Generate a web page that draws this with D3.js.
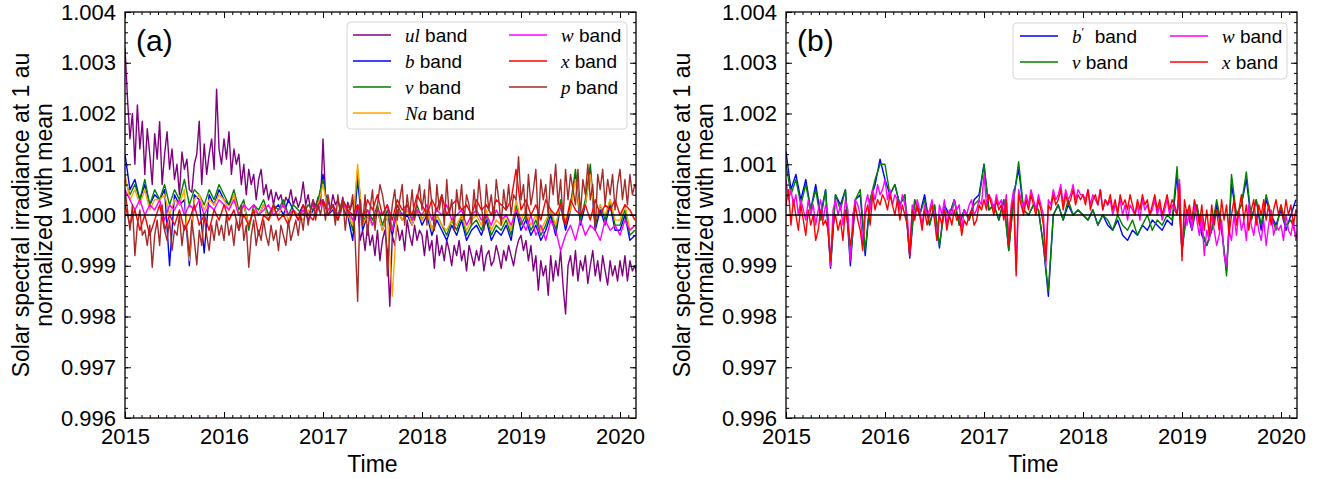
<!DOCTYPE html>
<html>
<head>
<meta charset="utf-8">
<script src="https://cdn.jsdelivr.net/npm/d3@7"></script>
<style>
  body { margin: 0; background: #fff; }
  svg { display: block; }
  text { font-family: "Liberation Sans", Arial, sans-serif; fill: #000; }
</style>
</head>
<body>
<svg id="chart" width="1331" height="479"></svg>
<script>
// sampling grids of the series (decimal years)
const startYear = 2015;
const coarseStep = 0.05;
const fineStep = 0.025;

const yearTicks = [2015, 2016, 2017, 2018, 2019, 2020];
const valueTicks = [0.996, 0.997, 0.998, 0.999, 1.000, 1.001, 1.002, 1.003, 1.004];

// deviations from the mean, in parts per million (value = 1 + d * 1e-6)
// panel (a) -- fine grid
const ulA = [3300, 2300, 1500, 2000, 1000, 2170, 1300, 1850, 800, 1700, 1200, 600, 1600, 1100, 1840, 600, 1200, 1640, 900, 1300,
  700, 1000, 400, 1240, 900, 1100, 500, 450, 1000, 1200, 1850, 600, 1400, 800, 1200, 1500, 900, 2480, 1300, 1000,
  1500, 1100, 1640, 800, 1300, 1000, 1200, 600, 1000, 400, 900, 600, 800, 300, 700, 900, 400, 600, 300, 500,
  200, 450, 300, 400, 150, 350, 250, 500, 200, 350, 150, 300, 650, 200, 400, 100, 300, 150, 350, 200,
  1500, 400, 300, 100, 400, 200, 300, 100, 350, 0, 250, 100, 300, -100, 200, -500, -300, -700, -200, -600,
  -400, -800, -300, -900, -500, -300, -700, -1800, -400, -600, -200, -500, -300, -700, -100, -400, -600, -200, -500, -300,
  -400, -800, -300, -700, -500, -1050, -400, -800, -600, -900, -500, -700, -1000, -600, -800, -500, -900, -700, -1100, -600,
  -800, -1000, -700, -900, -600, -1100, -800, -700, -1000, -900, -600, -800, -1050, -700, -900, -600, -800, -1000, -700, -500,
  -400, -700, -500, -900, -600, -1100, -800, -1480, -900, -1200, -1000, -1580, -800, -1300, -900, -1200, -700, -1400, -1950, -1000,
  -800, -1200, -700, -1300, -900, -1100, -800, -1350, -1000, -700, -1200, -900, -1300, -800, -1100, -1380, -900, -1200, -1000, -1300,
  -900, -1200, -800, -1300, -900, -1100, -1000, -1200];
const pA = [500, 100, -300, 200, -800, -200, 100, -400, -300, -600, -200, -1030, -400, -100, -600, 200, -300, -500, -100, -700,
  -300, -400, 0, -600, -200, -300, -800, -100, -500, -980, -300, -600, 0, -400, -700, -200, -500, -100, -400, -200,
  -500, 0, -400, -200, -600, -100, -300, 200, -500, -200, -1030, -400, -100, -600, -300, -500, -100, -400, -600, -200,
  -500, -300, -700, -200, -400, -600, -100, -500, -300, -100, -400, 0, -300, 200, -200, 100, 300, -100, 200, 0,
  300, -100, 400, 100, 200, -200, 400, 0, 300, -300, 200, 100, 400, -500, -1700, 300, -200, 400, -400, 100,
  500, -300, 200, 600, 400, 100, -1200, -300, 200, 500, -100, 300, 600, -200, 400, 0, 500, -100, 300, 600,
  100, 500, -200, 700, 200, -300, 600, 100, 400, -200, 700, 0, 300, -300, 500, 100, 600, -100, 400, 200,
  -200, 500, 0, 700, 200, -300, 600, 100, 400, -100, 700, 300, -200, 500, 100, 600, 0, 400, 300, 1150,
  300, 600, -100, 800, 200, 500, 900, -200, 700, 300, 600, 0, 800, 400, 1000, 200, 700, -100, 900, 300,
  800, 500, 200, 900, 0, 700, 400, 1000, 300, 600, -300, 800, 500, 900, 200, 700, 400, 800, 100, 600,
  900, 300, 700, 200, 800, 400, 600, 500];

// panel (a) -- coarse grid
const bA = [1200, 500, 700, 300, 600, 200, 400, 300, 500, -1000, 400, 200, 300, -1000, 400, 300, -750, 400, 200, 500,
  300, 200, 400, 0, 200, -200, 100, 0, 200, -100, 100, 200, 0, 300, 100, 0, 200, -100, 100, 200,
  800, 0, 100, -100, 200, 0, -500, 700, -300, 0, -200, 100, -300, 0, -400, 100, -100, 0, -200, 100,
  -200, 0, -400, -100, -300, -500, -200, -400, -100, -500, -300, -200, -400, -100, -500, -300, -400, -200, -500, 100,
  -300, -100, -400, -200, -500, -300, 0, -400, 200, -300, 100, 800, -200, 200, 900, -300, 100, -200, 200, -300,
  -300, 0, -500, -400];
const vA = [700, 400, 600, 300, 700, 200, 500, 300, 600, 200, 500, 300, 700, 200, 500, 400, 200, 500, 300, 600,
  400, 200, 500, 100, 300, -300, 200, 100, 300, 0, 200, 100, 300, 0, 200, 100, 0, 200, 100, 300,
  700, 100, 200, 0, 300, 100, -300, 900, -200, 100, -100, 200, -200, 100, -300, 200, 0, 100, -100, 200,
  -100, 100, -300, 0, -200, -400, -100, -300, 0, -400, -200, -100, -300, 0, -400, -200, -300, -100, -400, 200,
  -200, 0, -300, -100, -400, -200, 100, -300, 300, -200, 200, 900, -100, 300, 1000, -200, 200, -100, 300, -200,
  -200, 100, -400, -300];
const naA = [800, 300, 500, 200, 500, 100, 300, 300, 400, 0, 300, 200, 500, -900, 300, 400, 100, 300, 200, 400,
  300, 100, 400, 0, 200, -200, 100, 0, 200, -100, 100, 0, 200, -100, 100, 0, -100, 100, 0, 200,
  600, 100, 200, -100, 200, 0, -200, 1000, -200, 0, -200, 100, -300, 0, -1600, 100, -100, 100, -200, 100,
  -100, 100, -300, 0, -200, -300, -100, -200, 0, -300, -100, 0, -200, 100, -300, -100, -200, 0, -300, 300,
  -100, 100, -200, 0, -300, -100, 100, -200, 200, -100, 100, 700, 0, 200, 800, -100, 200, 0, 300, -100,
  -100, 200, -300, -200];
const wA = [500, 300, 100, 300, 0, 200, 100, 300, -100, 200, 100, 300, 0, 200, 100, 300, 0, 200, 100, 300,
  200, 100, 300, 0, 200, 100, 200, 0, 100, 200, 0, 100, 200, 0, 100, -100, 100, 0, 200, 100,
  300, 100, 200, 0, 200, 100, -100, 200, 0, 100, -200, 100, 0, 200, -300, 100, 0, 200, -100, 100,
  0, 200, -100, 100, 0, 200, -100, 0, 100, -200, 0, 100, -100, 0, -200, 100, -100, 0, -200, 100,
  -100, -300, 0, -400, -200, -500, -100, -300, -700, -400, -200, -500, -100, -400, -200, -300, -500, -100, -300, -200,
  -400, -100, -300, -200];
const xA = [200, -200, 100, -300, 0, -400, -100, 200, -300, 0, -200, 100, -300, -100, 200, -200, 0, -300, 100, -100,
  200, -100, 100, -300, 0, -200, 100, -400, 0, -100, 200, -100, 0, -200, 100, -100, 200, 0, -100, 200,
  300, 0, 200, -100, 300, 100, 0, 200, -100, 300, 100, 400, 0, 200, -100, 300, 100, 200, 0, 400,
  200, 0, 300, 100, 400, 0, 200, 300, 100, 200, 0, 300, 100, 200, 0, 300, 200, 100, 300, 900,
  100, 300, 0, 200, -100, 300, 100, 0, 200, -200, 300, 100, 0, 200, -100, 300, 0, 200, 100, 300,
  0, 200, 100, -100];

// panel (b) -- coarse grid
const bpB = [1250, 500, 800, 300, 700, 100, 600, 0, 500, -1050, 400, 200, 500, -1000, 300, 400, -800, 300, 600, 1100,
  700, 400, 600, 200, 400, -850, 300, 0, 400, -200, 200, -650, 200, 0, 300, -200, 100, -100, 300, 400,
  1000, 100, 200, -100, 300, -700, 400, 900, 100, 0, 200, 100, -600, -1600, 0, 200, -100, 200, 0, 100,
  0, -100, 100, -200, 0, -200, -300, -100, -400, -500, -300, -400, -200, -300, -100, -200, -300, -100, -200, 800,
  -700, 100, -300, 200, -400, -600, -300, 200, -300, -1100, 600, 0, 200, 700, -100, 300, -300, 300, 0, -200,
  100, -300, 0, 300];
const vB = [1000, 400, 700, 200, 600, 100, 500, -100, 500, -1000, 400, 100, 500, -900, 300, 500, -700, 300, 700, 1000,
  1000, 400, 600, 200, 400, -800, 300, 0, 300, -200, 200, -600, 100, 0, 300, -200, 100, -100, 200, 300,
  1000, 100, 200, -100, 300, -700, 300, 1050, 100, 0, 200, 100, -600, -1500, 0, 200, -100, 300, 0, 100,
  0, -100, 100, -200, 0, -100, -300, 0, -200, -300, -100, -400, -200, 0, -300, -100, -200, 0, -100, 950,
  -700, 100, -200, 200, -300, -600, -300, 300, -200, -1200, 800, 0, 200, 850, -100, 300, -200, 400, 0, -300,
  200, -200, -100, -400];

// panel (b) -- fine grid
const wB = [700, 300, 500, 200, 400, 0, 300, 100, -100, 300, 0, 200, -200, 100, 300, -100, 200, 0, -1000, 100,
  300, 0, 200, -200, 300, 100, -900, 0, 300, 200, 0, -600, 200, 400, 100, 500, 300, 600, 400, 500,
  700, 300, 500, 200, 400, 300, 100, 400, 200, 0, -800, 200, 0, 300, 100, -200, 200, 0, 100, 300,
  0, -500, 200, 0, 300, -200, 100, 0, 300, 100, 200, -300, 100, 0, 200, 300, 0, 100, 300, 200,
  800, 200, 400, 300, 100, 400, 200, 300, 0, 400, -500, 200, 500, -1100, 500, 300, 100, 400, 200, 500,
  300, 100, 400, 200, 0, -1000, 300, 200, 500, 300, 400, 600, 200, 500, 300, 400, 600, 300, 500, 400,
  400, 300, 500, 200, 400, 300, 200, 500, 100, 300, 200, 300, 0, 200, 100, 300, 0, 200, -100, 200,
  100, 0, 200, -100, 300, 100, 200, 0, 100, 300, 0, 200, -100, 100, 300, 0, 200, 100, 0, 700,
  -800, 100, -200, 100, -300, 200, -100, -400, 0, -800, -300, -500, 0, -300, -600, -400, -100, -800, -1000, -300,
  -500, 0, -400, 100, -300, -100, -500, 200, -200, -400, 0, -300, -500, -100, -600, -200, 100, -400, -200, -300,
  -200, -500, 0, -300, -400, -100, -500, -200];
const xB = [200, 500, -200, 300, 0, -300, 200, -100, -400, 100, -200, 0, -500, -300, 100, -200, -100, -300, -900, -200,
  0, -300, -100, -500, 100, -200, -600, -300, 200, -100, -300, -700, 0, 200, -200, 400, 100, 300, 200, 400,
  300, 100, 400, 200, 0, 300, -100, 200, 0, -200, -800, 100, -100, 200, 0, -300, 100, -200, 0, 200,
  -100, -500, 0, -200, 100, -300, 0, -200, 100, -100, 0, -400, -100, -200, 0, 100, -200, -100, 200, 100,
  300, 100, 400, 200, 0, 300, 100, 200, -100, 300, -600, 100, 300, -1200, 400, 200, 0, 300, 100, 400,
  200, 0, 300, 100, -200, -900, 200, 100, 400, 200, 300, 500, 100, 400, 200, 300, 500, 200, 400, 300,
  400, 200, 500, 100, 300, 400, 200, 500, 100, 300, 200, 400, 100, 300, 0, 400, 200, 300, 100, 400,
  200, 0, 300, 100, 400, 200, 300, 0, 200, 400, 100, 300, 0, 200, 400, 100, 300, 200, 0, 600,
  -900, 300, 0, 200, -100, 300, 100, -200, 200, -300, 100, -400, 200, -200, 100, -300, 300, -100, 200, -400,
  0, 300, -200, 100, 400, -100, 200, -300, 100, 300, -200, 200, 0, 300, -100, 200, -200, 100, 300, 0,
  200, -100, 300, 0, 200, -200, 100, 0];

const panels = [
  {
    left: 125, tag: '(a)',
    series: [
      { sym: 'ul', values: ulA, step: fineStep, color: '#800080' },
      { sym: 'b', values: bA, step: coarseStep, color: '#0000ff' },
      { sym: 'v', values: vA, step: coarseStep, color: '#008000' },
      { sym: 'Na', values: naA, step: coarseStep, color: '#ffa500' },
      { sym: 'w', values: wA, step: coarseStep, color: '#ff00ff' },
      { sym: 'x', values: xA, step: coarseStep, color: '#ff0000' },
      { sym: 'p', values: pA, step: fineStep, color: '#a52a2a' }
    ],
    legend: { x: 222, y: 10, w: 280, h: 107, rows: 4, colX: [6, 162], textDx: 52 }
  },
  {
    left: 786, tag: '(b)',
    series: [
      { sym: 'b', prime: true, values: bpB, step: coarseStep, color: '#0000ff' },
      { sym: 'v', values: vB, step: coarseStep, color: '#008000' },
      { sym: 'w', values: wB, step: fineStep, color: '#ff00ff' },
      { sym: 'x', values: xB, step: fineStep, color: '#ff0000' }
    ],
    legend: { x: 227, y: 11, w: 274, h: 56, rows: 2, colX: [7, 157], textDx: 52 }
  }
];

const W = 511, plotTop = 12, H = 406;
const svg = d3.select('#chart');

const x = d3.scaleLinear().domain([2015, 2015 + W / 99]).range([0, W]);
const y = d3.scaleLinear().domain([0.996, 1.004]).range([H, 0]);

panels.forEach((panel, pi) => {
  const g = svg.append('g').attr('transform', `translate(${panel.left}, ${plotTop})`);

  g.append('clipPath').attr('id', 'clip' + pi)
    .append('rect').attr('width', W).attr('height', H);

  const plot = g.append('g').attr('clip-path', `url(#clip${pi})`);
  panel.series.forEach(s => {
    const line = d3.line()
      .x((d, i) => x(startYear + i * s.step))
      .y(d => y(1 + d * 1e-6));
    plot.append('path')
      .datum(s.values)
      .attr('d', line)
      .attr('fill', 'none')
      .attr('stroke', s.color)
      .attr('stroke-width', 1.4)
      .attr('stroke-linejoin', 'round');
  });

  plot.append('line')
    .attr('x1', 0).attr('x2', W)
    .attr('y1', y(1)).attr('y2', y(1))
    .attr('stroke', '#000').attr('stroke-width', 1.3);

  // axes, ticks pointing inward on all four sides
  const xMinor = d3.range(2015, 2020.2, 1 / 12).filter(v => v <= x.domain()[1]);
  const yMinor = d3.range(0.996, 1.0041, 0.0002);

  g.append('g').attr('transform', `translate(0, ${H})`)
    .call(d3.axisBottom(x).tickValues(yearTicks).tickFormat(d3.format('d')).tickSizeInner(-6).tickSizeOuter(0).tickPadding(10));
  g.append('g').attr('transform', `translate(0, ${H})`)
    .call(d3.axisBottom(x).tickValues(xMinor).tickFormat('').tickSizeInner(-3).tickSizeOuter(0));
  g.append('g')
    .call(d3.axisTop(x).tickValues(yearTicks).tickFormat('').tickSizeInner(-6).tickSizeOuter(0));
  g.append('g')
    .call(d3.axisTop(x).tickValues(xMinor).tickFormat('').tickSizeInner(-3).tickSizeOuter(0));

  g.append('g')
    .call(d3.axisLeft(y).tickValues(valueTicks).tickFormat(d3.format('.3f')).tickSizeInner(-6).tickSizeOuter(0).tickPadding(9));
  g.append('g')
    .call(d3.axisLeft(y).tickValues(yMinor).tickFormat('').tickSizeInner(-3).tickSizeOuter(0));
  g.append('g').attr('transform', `translate(${W}, 0)`)
    .call(d3.axisRight(y).tickValues(valueTicks).tickFormat('').tickSizeInner(-6).tickSizeOuter(0));
  g.append('g').attr('transform', `translate(${W}, 0)`)
    .call(d3.axisRight(y).tickValues(yMinor).tickFormat('').tickSizeInner(-3).tickSizeOuter(0));

  g.selectAll('.domain').remove();
  g.selectAll('.tick line').attr('stroke', '#000').attr('stroke-width', 1);
  g.selectAll('.tick text')
    .style('font-family', '"Liberation Sans", Arial, sans-serif')
    .style('font-size', '22px')
    .attr('fill', '#000');

  g.append('rect')
    .attr('width', W).attr('height', H)
    .attr('fill', 'none').attr('stroke', '#000').attr('stroke-width', 1.3);

  // panel tag
  g.append('text')
    .attr('x', 11).attr('y', 39)
    .style('font-size', '30px')
    .text(panel.tag);

  // axis titles
  g.append('text')
    .attr('x', W / 2 - 8).attr('y', 460)
    .attr('text-anchor', 'middle')
    .style('font-size', '23px')
    .text('Time');

  const ylab = g.append('text')
    .attr('transform', `translate(-96, ${H / 2}) rotate(-90)`)
    .attr('text-anchor', 'middle')
    .style('font-size', '23px');
  ylab.append('tspan').attr('x', 0).attr('dy', 0).text('Solar spectral irradiance at 1 au');
  ylab.append('tspan').attr('x', 0).attr('dy', 23).text('normalized with mean');

  // legend
  const L = panel.legend;
  const lg = g.append('g').attr('transform', `translate(${L.x}, ${L.y})`);
  lg.append('rect')
    .attr('width', L.w).attr('height', L.h)
    .attr('rx', 4)
    .attr('fill', '#fff').attr('fill-opacity', 0.8)
    .attr('stroke', '#d6d6d6').attr('stroke-width', 1);

  panel.series.forEach((s, i) => {
    const col = Math.floor(i / L.rows), row = i % L.rows;
    const ly = 13 + row * 26;
    const lx = L.colX[col];
    lg.append('line')
      .attr('x1', lx).attr('x2', lx + 38)
      .attr('y1', ly).attr('y2', ly)
      .attr('stroke', s.color).attr('stroke-width', 1.6);
    const t = lg.append('text')
      .attr('x', lx + L.textDx).attr('y', ly + 7)
      .style('font-size', '19px');
    t.append('tspan')
      .style('font-family', '"Liberation Serif", "Times New Roman", serif')
      .style('font-style', 'italic')
      .text(s.sym);
    if (s.prime) {
      t.append('tspan').attr('dy', -7).style('font-size', '12px')
        .style('font-family', '"Liberation Serif", serif').text('\u2032');
      t.append('tspan').attr('dy', 7).text('\u00a0 band');
    } else {
      t.append('tspan').text(' band');
    }
  });
});
</script>
</body>
</html>
